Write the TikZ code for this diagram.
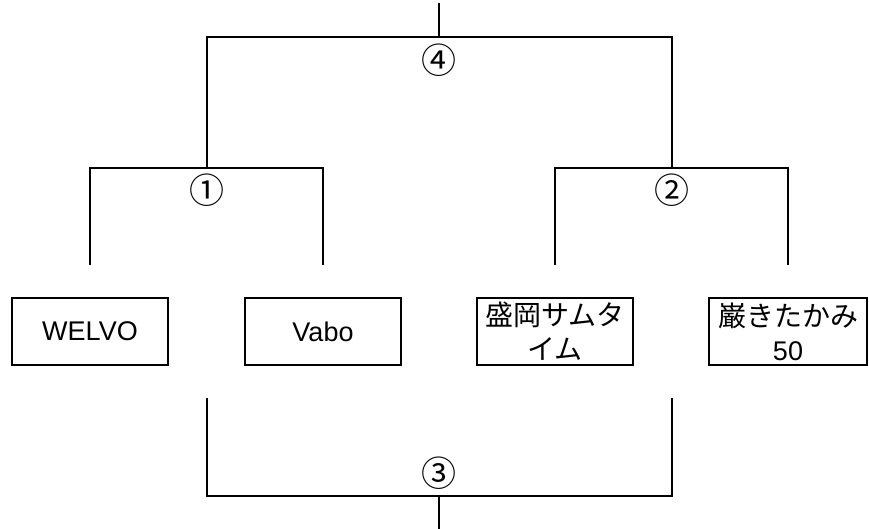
\documentclass[tikz,border=0pt]{standalone}
\usepackage{fontspec}
\setmainfont{Liberation Sans}
\newfontfamily\jpfont{Noto Sans CJK JP}
\usetikzlibrary{positioning,calc}

\begin{document}
\begin{tikzpicture}[
    x=1pt, y=-1pt,
    team/.style={rectangle, draw, line width=2pt, minimum width=156pt, minimum height=67pt, inner sep=0pt, align=center, font=\fontsize{27}{34}\selectfont},
    jp/.style={font=\jpfont\fontsize{28}{34}\selectfont},
    bracket/.style={line width=2pt},
    num/.style={font=\jpfont\fontsize{35}{35}\selectfont, inner sep=0pt}
]
    \useasboundingbox (0,0) rectangle (869,529);

    % === Teams ===
    \node[team] (welvo) at (90,331.5) {WELVO};
    \node[team] (vabo) at (323,331.5) {Vabo};
    \node[team, jp] (morioka) at (555,331.5) {盛岡サムタ\\イム};
    \node[team, jp, minimum width=158pt] (iwaki) at (788,331.5) {巌きたかみ\\{\fontspec{Liberation Sans}\fontsize{27}{34}\selectfont 50}};

    % === Semifinals ===
    \draw[bracket] ([yshift=32pt]welvo.north) |- ($(welvo.north)!0.5!(vabo.north)+(0,-129)$) coordinate (sf1) -| ([yshift=32pt]vabo.north);
    \draw[bracket] ([yshift=32pt]morioka.north) |- ($(morioka.north)!0.5!(iwaki.north)+(0,-129)$) coordinate (sf2) -| ([yshift=32pt]iwaki.north);
    \node[num] (one) at ($(sf1)+(0,22)$) {①};
    \node[num] (two) at ($(sf2)+(0,22)$) {②};

    % === Final ===
    \draw[bracket] (sf1) -- ++(0,-131) coordinate (fl) -| (sf2);
    \coordinate (fin) at ($(fl)!0.5!(sf2|-fl)$);
    \draw[bracket] (fin) -- ++(0,-34);
    \node[num] (four) at ($(fin)+(0,23)$) {④};

    % === Third place ===
    \draw[bracket] ($(sf1|-welvo.south)+(0,32)$) -- ++(0,98) coordinate (tl) -| ($(sf2|-welvo.south)+(0,32)$);
    \coordinate (third) at ($(tl)!0.5!(sf2|-tl)$);
    \draw[bracket] (third) -- ++(0,36);
    \node[num] (three) at ($(third)+(0,-23)$) {③};
\end{tikzpicture}
\end{document}
